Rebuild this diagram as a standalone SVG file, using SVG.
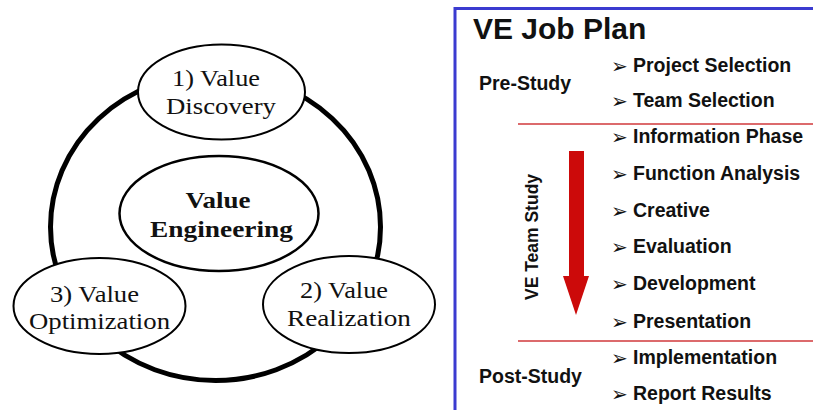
<svg xmlns="http://www.w3.org/2000/svg" width="813" height="410" viewBox="0 0 813 410">
  <style>
    .ring { fill: none; stroke: #000; stroke-width: 5; }
    .node { fill: #fff; stroke: #000; stroke-width: 2; }
    .core { fill: #fff; stroke: #000; stroke-width: 2.5; }
    .serif { font-family: "Liberation Serif", "Times New Roman", serif; font-size: 23px; fill: #111; text-anchor: middle; }
    .serif-b { font-family: "Liberation Serif", "Times New Roman", serif; font-size: 23px; font-weight: bold; fill: #111; text-anchor: middle; }
    .sans { font-family: "Liberation Sans", Arial, sans-serif; font-weight: bold; fill: #111; }
    .title { font-size: 30px; }
    .label { font-size: 19.5px; }
    .item { font-size: 19.5px; }
    .bullet { font-family: "DejaVu Sans", sans-serif; font-size: 20px; font-weight: bold; }
    .divider { stroke: #d0393b; stroke-width: 1.6; }
    .frame { fill: none; stroke: #3b3bd0; stroke-width: 3; }
  </style>

  <rect width="813" height="410" fill="#fff"/>

  <!-- Value engineering cycle -->
  <g id="connectors">
    <ellipse class="ring" cx="215.5" cy="227" rx="165" ry="153.5"/>
  </g>

  <g id="node-core">
    <ellipse class="core" cx="219" cy="213.5" rx="99.5" ry="57.5"/>
    <text class="serif-b" x="218" y="208" textLength="65" lengthAdjust="spacingAndGlyphs">Value</text>
    <text class="serif-b" x="221.5" y="237" textLength="143" lengthAdjust="spacingAndGlyphs">Engineering</text>
  </g>

  <g id="node-discovery">
    <ellipse class="node" cx="221.5" cy="92" rx="83.5" ry="47.5"/>
    <text class="serif" x="216" y="86" textLength="88" lengthAdjust="spacingAndGlyphs">1) Value</text>
    <text class="serif" x="221" y="114" textLength="110" lengthAdjust="spacingAndGlyphs">Discovery</text>
  </g>

  <g id="node-realization">
    <ellipse class="node" cx="349" cy="304.5" rx="86" ry="48.5"/>
    <text class="serif" x="344" y="298" textLength="88" lengthAdjust="spacingAndGlyphs">2) Value</text>
    <text class="serif" x="349" y="326" textLength="124" lengthAdjust="spacingAndGlyphs">Realization</text>
  </g>

  <g id="node-optimization">
    <ellipse class="node" cx="99.5" cy="306" rx="86" ry="48"/>
    <text class="serif" x="94.5" y="302" textLength="89" lengthAdjust="spacingAndGlyphs">3) Value</text>
    <text class="serif" x="99.5" y="329" textLength="141" lengthAdjust="spacingAndGlyphs">Optimization</text>
  </g>

  <!-- VE job plan panel -->
  <g id="job-plan">
    <path class="frame" d="M455 410 V8.5 H813"/>
    <text class="sans title" x="473" y="39">VE Job Plan</text>

    <line class="divider" x1="518" y1="124" x2="813" y2="124"/>
    <line class="divider" x1="518" y1="341" x2="813" y2="341"/>

    <text class="sans label" x="479" y="90">Pre-Study</text>
    <text class="sans label" x="479" y="383">Post-Study</text>
    <text class="sans label" transform="translate(538 237) rotate(-90)" text-anchor="middle" style="font-size:17.5px">VE Team Study</text>

    <polygon fill="#cc0a0a" points="569,151 584,151 584,276 589,276 576,315 563,276 569,276"/>

    <g class="sans item">
      <text x="611" y="72.5"><tspan class="bullet">➢</tspan><tspan x="633" y="72">Project Selection</tspan></text>
      <text x="611" y="107.5"><tspan class="bullet">➢</tspan><tspan x="633" y="107">Team Selection</tspan></text>
      <text x="611" y="143.5"><tspan class="bullet">➢</tspan><tspan x="633" y="143">Information Phase</tspan></text>
      <text x="611" y="180.5"><tspan class="bullet">➢</tspan><tspan x="633" y="180">Function Analysis</tspan></text>
      <text x="611" y="217.5"><tspan class="bullet">➢</tspan><tspan x="633" y="217">Creative</tspan></text>
      <text x="611" y="253.5"><tspan class="bullet">➢</tspan><tspan x="633" y="253">Evaluation</tspan></text>
      <text x="611" y="290.5"><tspan class="bullet">➢</tspan><tspan x="633" y="290">Development</tspan></text>
      <text x="611" y="328.5"><tspan class="bullet">➢</tspan><tspan x="633" y="328">Presentation</tspan></text>
      <text x="611" y="364.5"><tspan class="bullet">➢</tspan><tspan x="633" y="364">Implementation</tspan></text>
      <text x="611" y="400.5"><tspan class="bullet">➢</tspan><tspan x="633" y="400">Report Results</tspan></text>
    </g>
  </g>
</svg>
